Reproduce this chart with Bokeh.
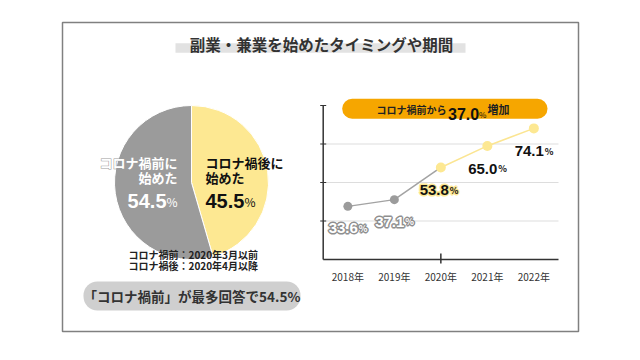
from bokeh.plotting import figure
from bokeh.models import Range1d
from bokeh.core.properties import value
from bokeh.embed import file_html
from bokeh.resources import INLINE
import math

# ---------------- data ----------------
title_text = "副業・兼業を始めたタイミングや期間"
pie_names = ["コロナ禍後に始めた", "コロナ禍前に始めた"]
pie_values = [45.5, 54.5]
pie_colors = ["#fde892", "#9b9b9b"]
note_lines = ["コロナ禍前：2020年3月以前", "コロナ禍後：2020年4月以降"]
pill_text = "「コロナ禍前」が最多回答で54.5%"

years = [2018, 2019, 2020, 2021, 2022]
year_labels = ["2018年", "2019年", "2020年", "2021年", "2022年"]
rates = [33.6, 37.1, 53.8, 65.0, 74.1]
before_years = [2018, 2019, 2020]
before_rates = [33.6, 37.1, 53.8]
after_years = [2020, 2021, 2022]
after_rates = [53.8, 65.0, 74.1]
increase = 37.0
y_ticks = [26, 46, 66, 86]
y_min = 6
x_min, x_max = 2017.47, 2022.53

JP = value("Noto Sans CJK JP")
NUM = value("Liberation Sans")

W, H = 624, 344
# ---------------- figure (image pixel coordinates) ----------------
p = figure(width=W, height=H, x_range=Range1d(0, W), y_range=Range1d(H, 0),
           output_backend="svg", toolbar_location=None, min_border=0,
           x_axis_type=None, y_axis_type=None)
p.grid.visible = False
p.outline_line_color = None
p.background_fill_color = "white"
p.border_fill_color = "white"

# chart box (pixels) -> extra ranges for the line chart
CL, CR, CB, CT = 322.7, 558.0, 259.0, 105.0
y_max = y_ticks[-1]
sx = (CR - CL) / (x_max - x_min)
sy = (CB - CT) / (y_max - y_min)
p.extra_x_ranges = {"yr": Range1d(x_min - CL / sx, x_max + (W - CR) / sx)}
p.extra_y_ranges = {"val": Range1d(y_min - (H - CB) / sy, y_max + CT / sy),
                    "pie": Range1d(-H, 0)}

# outer border
p.quad(left=[62], right=[578], top=[22], bottom=[331], fill_color=None,
       line_color="#808080", line_width=1.5)

# title with highlight
p.quad(left=[175], right=[465], top=[42.7], bottom=[52.3], fill_color="#e2e2e2", line_color=None)
p.text(x=[321], y=[43.5], text=[title_text], text_font=JP, text_font_size="15.5px",
       text_font_style="bold", text_color="#333333", text_align="center", text_baseline="middle")

# ---------------- pie ----------------
total = sum(pie_values)
starts, ends, cum = [], [], 0.0
for v in pie_values:
    ends.append(math.pi / 2 - 2 * math.pi * cum / total)
    cum += v
    starts.append(math.pi / 2 - 2 * math.pi * cum / total)
p.wedge(x=[191] * 2, y=[-182] * 2, radius=77, start_angle=starts, end_angle=ends,
        fill_color=pie_colors, line_color="white", line_width=1, y_range_name="pie")

# pie labels
p.text(x=[177], y=[161.7], text=["コロナ禍前に"], text_font=JP,
       text_font_size="13px", text_font_style="bold", text_color="#9b9b9b",
       text_outline_color="#9b9b9b", text_align="right", text_baseline="middle")
p.text(x=[177, 177], y=[161.7, 176.7], text=["コロナ禍前に", "始めた"], text_font=JP,
       text_font_size="13px", text_font_style="bold", text_color="white",
       text_align="right", text_baseline="middle")
p.text(x=[166], y=[200.5], text=[f"{pie_values[1]:.1f}"], text_font=NUM, text_font_size="20px",
       text_font_style="bold", text_color="white", text_align="right", text_baseline="alphabetic")
p.text(x=[177], y=[200.5], text=["%"], text_font=JP, text_font_size="12px",
       text_color="white", text_align="right", text_baseline="alphabetic")

p.text(x=[205, 205], y=[161.7, 176.7], text=["コロナ禍後に", "始めた"], text_font=JP,
       text_font_size="13px", text_font_style="bold", text_color="#111111",
       text_align="left", text_baseline="middle")
p.text(x=[205], y=[200.5], text=[f"{pie_values[0]:.1f}"], text_font=NUM, text_font_size="20px",
       text_font_style="bold", text_color="#111111", text_align="left", text_baseline="alphabetic")
p.text(x=[244], y=[200.5], text=["%"], text_font=JP, text_font_size="12px",
       text_color="#111111", text_align="left", text_baseline="alphabetic")

# notes
p.text(x=[128, 128], y=[254, 264.5], text=note_lines, text_font=JP, text_font_size="10px",
       text_font_style="bold", text_color="#222222", text_align="left", text_baseline="middle")

# pill
p.quad(left=[83], right=[300], top=[281], bottom=[310], fill_color="#cfcfcf", line_color=None,
       border_radius=14)
p.text(x=[191.5], y=[295.5], text=[pill_text], text_font=JP, text_font_size="13.5px",
       text_font_style="bold", text_color="#333333", text_align="center", text_baseline="middle")

# ---------------- line chart ----------------
R = dict(x_range_name="yr", y_range_name="val")
# grid
p.segment(x0=[x_min] * 3, y0=y_ticks[:-1], x1=[x_max] * 3, y1=y_ticks[:-1],
          line_color="#dddddd", line_width=1, **R)
# axes
p.segment(x0=[x_min, x_min], y0=[y_min, y_min], x1=[x_min, x_max], y1=[y_max, y_min],
          line_color="#333333", line_width=1.5, **R)
tk = 3 / sx
p.segment(x0=[x_min - tk] * 4, y0=y_ticks, x1=[x_min + tk] * 4, y1=y_ticks,
          line_color="#333333", line_width=1.2, **R)
p.segment(x0=[years[2]], y0=[y_min - 4 / sy], x1=[years[2]], y1=[y_min + 6 / sy],
          line_color="#333333", line_width=1.5, **R)
p.text(x=years, y=[y_min] * 5, text=year_labels, y_offset=17, text_font=JP,
       text_font_size="10px", text_color="#333333", text_align="center",
       text_baseline="middle", **R)

# banner
p.quad(left=[341.7], right=[547], top=[98.3], bottom=[118.3], fill_color="#f6a600",
       line_color=None, border_radius=10)
p.text(x=[446], y=[108.5], text=["コロナ禍前から"], text_font=JP, text_font_size="10px",
       text_font_style="bold", text_color="#222222", text_align="right", text_baseline="middle")
p.text(x=[447.5], y=[113.5], text=[f"{increase:.1f}"], text_font=NUM, text_font_size="16px",
       text_font_style="bold", text_color="#111111", text_align="left", text_baseline="alphabetic")
p.text(x=[478.5], y=[113.5], text=["%"], text_font=JP, text_font_size="8px",
       text_color="#111111", text_align="left", text_baseline="alphabetic")
p.text(x=[487], y=[108.5], text=["増加"], text_font=JP, text_font_size="11px",
       text_font_style="bold", text_color="#222222", text_align="left", text_baseline="middle")

# lines and points
p.line(before_years, before_rates, line_color="#a3a3a3", line_width=1.5, **R)
p.line(after_years, after_rates, line_color="#fbe592", line_width=1.5, **R)
p.scatter(before_years[:2], before_rates[:2], size=9, fill_color="#9b9b9b", line_color=None, **R)
p.scatter(after_years, after_rates, size=10, fill_color="#fde892", line_color=None, **R)

# value labels
lab = [f"{r:.1f}" for r in rates]
HALO = [(-1, 0), (1, 0), (0, -1), (0, 1)]


def label_set(xs, ys, txt, nx, ny, fill, halo=None):
    pct = ["%"] * len(xs)
    if halo is not None:
        for dx, dy in HALO:
            p.text(x=xs, y=ys, text=txt, x_offset=nx + dx, y_offset=ny + dy, text_font=NUM,
                   text_font_size="15px", text_font_style="bold", text_color=halo,
                   text_outline_color=halo, text_align="right", text_baseline="alphabetic", **R)
            p.text(x=xs, y=ys, text=pct, x_offset=nx + 1 + dx, y_offset=ny + dy, text_font=JP,
                   text_font_size="9px", text_font_style="bold", text_color=halo,
                   text_outline_color=halo, text_align="left", text_baseline="alphabetic", **R)
    p.text(x=xs, y=ys, text=txt, x_offset=nx, y_offset=ny, text_font=NUM,
           text_font_size="15px", text_font_style="bold", text_color=fill,
           text_align="right", text_baseline="alphabetic", **R)
    p.text(x=xs, y=ys, text=pct, x_offset=nx + 1, y_offset=ny, text_font=JP,
           text_font_size="9px", text_font_style="bold", text_color=fill,
           text_align="left", text_baseline="alphabetic", **R)


label_set(years[:2], rates[:2], lab[:2], 10, 22, "white", halo="#8f8f8f")
label_set(years[2:3], rates[2:3], lab[2:3], 8, 23, "#111111", halo="#fde892")
label_set(years[3:], rates[3:], lab[3:], 10, 23, "#111111")

open("out.html", "w").write(file_html(p, INLINE))
